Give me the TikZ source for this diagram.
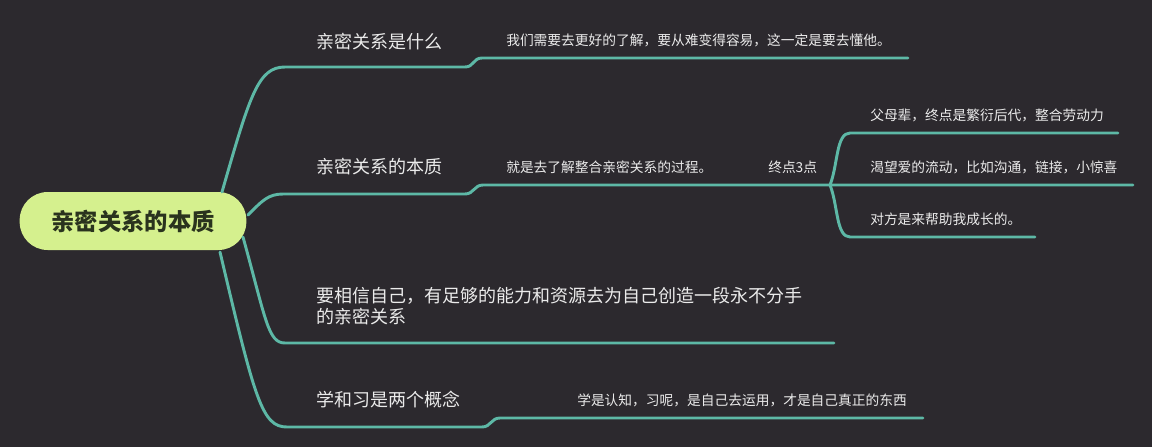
\documentclass[tikz,border=0pt]{standalone}
\usepackage{fontspec}
\setmainfont{Noto Sans CJK SC}
\definecolor{bgDark}{HTML}{2C292E}
\definecolor{branchTeal}{HTML}{5DB8A6}
\definecolor{rootGreen}{HTML}{D5F08E}
\definecolor{rootText}{HTML}{2A331E}
\newcommand{\tikzScale}{0.75pt}
\newcommand{\topicSize}{\fontsize{13.5}{15.75}\selectfont}
\newcommand{\leafSize}{\fontsize{10.3}{13}\selectfont}

\begin{document}
\begin{tikzpicture}[x=\tikzScale, y=-\tikzScale,
   branch/.style={draw=branchTeal, line width=2.2pt, line cap=round},
   topic/.style={anchor=west, inner sep=0pt, text=white!92!black, font=\topicSize},
   leaf/.style={anchor=west, inner sep=0pt, text=white!92!black, font=\leafSize}]
         \fill[bgDark] (0,0) rectangle (1152,447);

         \node (root) [fill=rootGreen, rounded corners=21pt, minimum width=170pt,
            minimum height=43.5pt, text=rootText,
            font=\fontsize{17.5}{20}\selectfont\bfseries] at (133,221) {亲密关系的本质};

         \node (what) [topic] at (316,42) {亲密关系是什么};
         \node (essence) [topic] at (316,167) {亲密关系的本质};
         \node (believe) [topic, align=left] at (316,306)
            {要相信自己，有足够的能力和资源去为自己创造一段永不分手\\的亲密关系};
         \node (learn) [topic] at (316,400) {学和习是两个概念};

         \node (understand) [leaf] at (506,40) {我们需要去更好的了解，要从难变得容易，这一定是要去懂他。};
         \node (process) [leaf] at (506,167) {就是去了解整合亲密关系的过程。};
         \node (three) [leaf] at (768,167) {终点3点};
         \node (elders) [leaf] at (870,115) {父母辈，终点是繁衍后代，整合劳动力};
         \node (flow) [leaf] at (870,167) {渴望爱的流动，比如沟通，链接，小惊喜};
         \node (grow) [leaf] at (870,219) {对方是来帮助我成长的。};
         \node (practice) [leaf] at (577,400) {学是认知，习呢，是自己去运用，才是自己真正的东西};

         % underline ends
         \coordinate (rootA) at (222,192);
         \coordinate (rootB) at (248,215);
         \coordinate (rootC) at (243,237);
         \coordinate (rootD) at (220,252);
         \coordinate (whatL) at (285,67);
         \coordinate (whatR) at (465,67);
         \coordinate (understandL) at (482,58);
         \coordinate (understandR) at (908,58);
         \coordinate (essenceL) at (283,194);
         \coordinate (essenceR) at (465,194);
         \coordinate (processL) at (483,185);
         \coordinate (fork) at (830,185);
         \coordinate (eldersL) at (850,133);
         \coordinate (eldersR) at (1118,133);
         \coordinate (flowR) at (1133,185);
         \coordinate (growL) at (850,237);
         \coordinate (growR) at (1035,237);
         \coordinate (believeL) at (285,343);
         \coordinate (believeR) at (834,343);
         \coordinate (learnL) at (287,427);
         \coordinate (learnR) at (482,427);
         \coordinate (practiceL) at (500,418);
         \coordinate (practiceR) at (923,418);

         \draw[branch] (rootA) .. controls (250,95) and (258,67) .. (whatL) -- (whatR)
            .. controls (474,67) and (473,58) .. (understandL) -- (understandR);
         \draw[branch] (rootB) .. controls (262,201) and (268,194) .. (essenceL) -- (essenceR)
            .. controls (474,194) and (474,185) .. (processL) -- (fork) -- (flowR);
         \draw[branch] (fork) .. controls (838,165) and (836,133) .. (eldersL) -- (eldersR);
         \draw[branch] (fork) .. controls (838,205) and (836,237) .. (growL) -- (growR);
         \draw[branch] (rootC) .. controls (266,320) and (268,343) .. (believeL) -- (believeR);
         \draw[branch] (rootD) .. controls (255,400) and (262,427) .. (learnL) -- (learnR)
            .. controls (491,427) and (491,418) .. (practiceL) -- (practiceR);
      \end{tikzpicture}
\end{document}
